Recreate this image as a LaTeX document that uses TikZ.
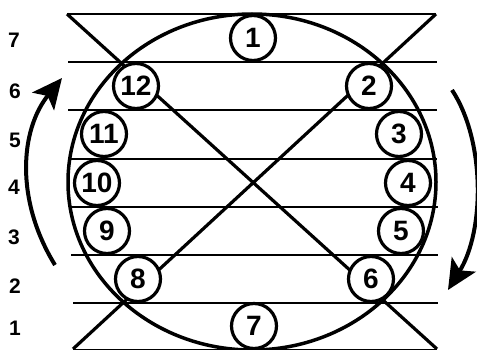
\documentclass[tikz,border=0pt]{standalone}
\usepackage{fontspec}
\setmainfont{Liberation Sans}
\usepackage{tikz}
\usetikzlibrary{arrows.meta}
\tikzstyle{ball} = [circle, draw, fill=white, line width=3.2pt, minimum size=45pt, inner sep=0pt,
  font=\fontsize{28}{28}\selectfont\bfseries]
\tikzstyle{level} = [font=\fontsize{21}{21}\selectfont\bfseries]
\tikzstyle{rail} = [line width=2.2pt]
\tikzstyle{cross} = [line width=3.2pt]
\tikzstyle{turn} = [line width=4pt, -{Stealth[length=30pt,width=28pt,inset=7pt]}]

\begin{document}
\begin{tikzpicture}[x=1pt, y=-1pt]
  \useasboundingbox (0,0) rectangle (477,350);

  % === HOURGLASS CORNERS ===
  \coordinate (tl) at (67,14);
  \coordinate (tr) at (436,14);
  \coordinate (bl) at (73,349);
  \coordinate (br) at (437,349);

  % === RAILS ===
  \draw[rail] (tl) -- (tr);
  \draw[rail] (68,62)  -- (437,62);
  \draw[rail] (68,110) -- (437,110);
  \draw[rail] (68,159) -- (437,159);
  \draw[rail] (70,207) -- (438,207);
  \draw[rail] (71,255) -- (438,255);
  \draw[rail] (73,303) -- (438,303);
  \draw[line width=1pt] (bl) -- (br);

  % === DIAGONALS ===
  \draw[cross] (tl) -- (br);
  \draw[cross] (tr) -- (bl);

  % === WHEEL ===
  \draw[line width=3.5pt] (252,182) ellipse [x radius=184pt, y radius=168pt];

  % === SEATS ===
  \node (c1)  [ball] at (253,38)  {1};
  \node (c2)  [ball] at (369,86)  {2};
  \node (c3)  [ball] at (399,134) {3};
  \node (c4)  [ball] at (408,183) {4};
  \node (c5)  [ball] at (401,231) {5};
  \node (c6)  [ball] at (371,279) {6};
  \node (c7)  [ball] at (254,326) {7};
  \node (c8)  [ball] at (138,279) {8};
  \node (c9)  [ball] at (107,231) {9};
  \node (c10) [ball] at (97,183)  {10};
  \node (c11) [ball] at (104,134) {11};
  \node (c12) [ball] at (136,86)  {12};

  % === LEVELS ===
  \node (l7) [level] at (14,40)  {7};
  \node (l6) [level] at (15,91)  {6};
  \node (l5) [level] at (15,140) {5};
  \node (l4) [level] at (14,187) {4};
  \node (l3) [level] at (14,237) {3};
  \node (l2) [level] at (15,286) {2};
  \node (l1) [level] at (15,328) {1};

  % === ROTATION ===
  \draw[turn] (55,265) .. controls (15,200) and (20,130) .. (62,78);
  \draw[turn] (452,90) .. controls (485,140) and (485,230) .. (448,290);

\end{tikzpicture}
\end{document}
